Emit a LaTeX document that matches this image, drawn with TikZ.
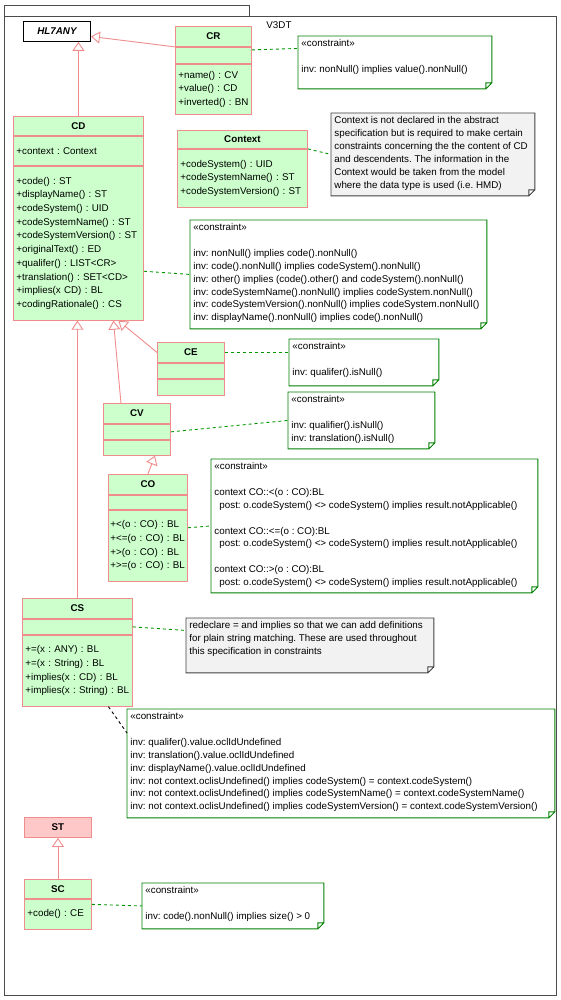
\documentclass[tikz,border=0pt]{standalone}
\usepackage{fontspec}
\setmainfont{Liberation Sans}
\usetikzlibrary{arrows.meta}
\frenchspacing

\definecolor{clsfill}{RGB}{204,255,204}
\definecolor{clsline}{RGB}{240,140,140}
\definecolor{stfill}{RGB}{255,200,200}
\definecolor{notegreen}{RGB}{0,128,0}
\definecolor{linkgreen}{RGB}{0,150,0}
\definecolor{notegray}{RGB}{242,242,242}

\tikzset{
  head/.style={draw=clsline, fill=clsfill, anchor=north west, inner sep=0pt,
    font=\fontsize{9.8}{13.7}\selectfont\bfseries},
  comp/.style={draw=clsline, fill=clsfill, anchor=north west, inner xsep=3pt,
    inner ysep=0pt, align=left, font=\fontsize{9.8}{13.7}\selectfont},
  spot/.style={anchor=north west, inner sep=0pt},
  gnote/.style={draw=notegreen, fill=white},
  cnote/.style={draw=black!75, fill=notegray},
  ntext/.style={anchor=north west, inner xsep=3pt, inner ysep=3pt, align=left,
    font=\fontsize{9.8}{12.9}\selectfont},
  gen/.style={draw=clsline, -{Triangle[open,length=9pt,width=12pt]}},
  link/.style={draw=linkgreen, dash pattern=on 3pt off 3pt}
}

\begin{document}
\begin{tikzpicture}[x=1pt, y=-1pt, line width=0.9pt]
  \useasboundingbox (0,0) rectangle (561,1000);
  % package frame
  \draw[black!70] (4,5) rectangle (249,16);
  \draw[black!70] (4,16) rectangle (556,995);
  \node[anchor=west, inner sep=0pt, font=\fontsize{9.8}{12}\selectfont] (pkg) at (266,25) {V3DT};

  % classes
  \node[draw=black, fill=white, anchor=north west, minimum width=67pt, minimum height=20pt,
    inner sep=0pt, font=\fontsize{9.8}{12}\selectfont\bfseries\itshape] (hl7any) at (23,21) {HL7ANY};

  \node[head, minimum width=76pt, minimum height=20pt] (cr) at (175,26) {CR};
  \node[comp, text width=70pt, minimum height=16pt] (cr-1) at (cr.south west) {};
  \node[comp, text width=70pt, minimum height=50pt] (cr-2) at (cr-1.south west)
    {+name() : CV\\+value() : CD\\+inverted() : BN};

  \node[head, minimum width=130pt, minimum height=19pt] (cd) at (13,116) {CD};
  \node[comp, text width=124pt, minimum height=29pt] (cd-1) at (cd.south west) {+context : Context};
  \node[comp, text width=124pt, minimum height=154pt] (cd-2) at (cd-1.south west)
    {+code() : ST\\+displayName() : ST\\+codeSystem() : UID\\+codeSystemName() : ST\\
     +codeSystemVersion() : ST\\+originalText() : ED\\+qualifer() : LIST<CR>\\
     +translation() : SET<CD>\\+implies(x CD) : BL\\+codingRationale() : CS};

  \node[head, minimum width=130pt, minimum height=18pt] (ctx) at (177,130) {Context};
  \node[comp, text width=124pt, minimum height=58pt] (ctx-1) at (ctx.south west)
    {+codeSystem() : UID\\+codeSystemName() : ST\\+codeSystemVersion() : ST};

  \node[head, minimum width=67pt, minimum height=20pt] (ce) at (157,342) {CE};
  \node[comp, text width=61pt, minimum height=15pt] (ce-1) at (ce.south west) {};
  \node[comp, text width=61pt, minimum height=16pt] (ce-2) at (ce-1.south west) {};

  \node[head, minimum width=67pt, minimum height=20pt] (cv) at (103,403) {CV};
  \node[comp, text width=61pt, minimum height=15pt] (cv-1) at (cv.south west) {};
  \node[comp, text width=61pt, minimum height=15pt] (cv-2) at (cv-1.south west) {};

  \node[head, minimum width=79pt, minimum height=20pt] (co) at (108,474) {CO};
  \node[comp, inner xsep=2pt, text width=75pt, minimum height=14pt] (co-1) at (co.south west) {};
  \node[comp, inner xsep=2pt, text width=75pt, minimum height=71pt] (co-2) at (co-1.south west)
    {+<(o : CO) : BL\\+<=(o : CO) : BL\\+>(o : CO) : BL\\+>=(o : CO) : BL};

  \node[head, minimum width=110pt, minimum height=20pt] (cs) at (22,598) {CS};
  \node[comp, text width=104pt, minimum height=15pt] (cs-1) at (cs.south west) {};
  \node[comp, text width=104pt, minimum height=71pt] (cs-2) at (cs-1.south west)
    {+=(x : ANY) : BL\\+=(x : String) : BL\\+implies(x : CD) : BL\\+implies(x : String) : BL};

  \node[head, fill=stfill, minimum width=67pt, minimum height=20pt] (st) at (24,817) {ST};

  \node[head, minimum width=67pt, minimum height=19pt] (sc) at (24,879) {SC};
  \node[comp, text width=61pt, minimum height=30pt] (sc-1) at (sc.south west) {+code() : CE};

  % notes
  \node[spot, minimum width=193pt, minimum height=52pt] (crn) at (298,36) {};
  \node[spot, minimum width=203pt, minimum height=82pt] (ctxn) at (331,113) {};
  \node[spot, minimum width=296pt, minimum height=108pt] (cdn) at (190,220) {};
  \node[spot, minimum width=149pt, minimum height=46pt] (cen) at (289,339) {};
  \node[spot, minimum width=146pt, minimum height=56pt] (cvn) at (288,392) {};
  \node[spot, minimum width=326pt, minimum height=133pt] (con) at (211,459) {};
  \node[spot, minimum width=247pt, minimum height=54pt] (csn) at (186,618) {};
  \node[spot, minimum width=427pt, minimum height=108pt] (csc) at (127,709) {};
  \node[spot, minimum width=181pt, minimum height=45pt] (scn) at (142,883) {};
  \foreach \n/\s in {crn/gnote, ctxn/cnote, cdn/gnote, cen/gnote, cvn/gnote,
                     con/gnote, csn/cnote, csc/gnote, scn/gnote}
    \path[\s] (\n.north west) -- (\n.north east) -- ([yshift=6pt]\n.south east)
      -- ([xshift=-6pt]\n.south east) -- (\n.south west) -- cycle
      ([yshift=6pt]\n.south east) -- ([xshift=-6pt,yshift=6pt]\n.south east)
      -- ([xshift=-6pt]\n.south east);

  \node[ntext] (crn-t) at (crn.north west)
    {«constraint»\\[12.9pt]inv: nonNull() implies value().nonNull()};
  \node[ntext, font=\fontsize{9.8}{13}\selectfont] (ctxn-t) at (ctxn.north west)
    {Context is not declared in the abstract\\specification but is required to make certain\\
     constraints concerning the the content of CD\\and descendents. The information in the\\
     Context would be taken from the model\\where the data type is used (i.e. HMD)};
  \node[ntext] (cdn-t) at (cdn.north west)
    {«constraint»\\[12.9pt]inv: nonNull() implies code().nonNull()\\
     inv: code().nonNull() implies codeSystem().nonNull()\\
     inv: other() implies (code().other() and codeSystem().nonNull()\\
     inv: codeSystemName().nonNull() implies codeSystem.nonNull()\\
     inv: codeSystemVersion().nonNull() implies codeSystem.nonNull()\\
     inv: displayName().nonNull() implies code().nonNull()};
  \node[ntext] (cen-t) at (cen.north west)
    {«constraint»\\[12.9pt]inv: qualifer().isNull()};
  \node[ntext] (cvn-t) at (cvn.north west)
    {«constraint»\\[12.9pt]inv: qualifier().isNull()\\inv: translation().isNull()};
  \node[ntext] (con-t) at (con.north west)
    {«constraint»\\[12.9pt]context CO::<(o : CO):BL\\
     \hspace*{5pt}post: o.codeSystem() <> codeSystem() implies result.notApplicable()\\[12.9pt]
     context CO::<=(o : CO):BL\\
     \hspace*{5pt}post: o.codeSystem() <> codeSystem() implies result.notApplicable()\\[12.9pt]
     context CO::>(o : CO):BL\\
     \hspace*{5pt}post: o.codeSystem() <> codeSystem() implies result.notApplicable()};
  \node[ntext] (csn-t) at (csn.north west)
    {redeclare = and implies so that we can add definitions\\
     for plain string matching. These are used throughout\\
     this specification in constraints};
  \node[ntext] (csc-t) at (csc.north west)
    {«constraint»\\[12.9pt]inv: qualifer().value.oclIdUndefined\\
     inv: translation().value.oclIdUndefined\\
     inv: displayName().value.oclIdUndefined\\
     inv: not context.oclisUndefined() implies codeSystem() = context.codeSystem()\\
     inv: not context.oclisUndefined() implies codeSystemName() = context.codeSystemName()\\
     inv: not context.oclisUndefined() implies codeSystemVersion() = context.codeSystemVersion()};
  \node[ntext] (scn-t) at (scn.north west)
    {«constraint»\\[12.9pt]inv: code().nonNull() implies size() > 0};

  % generalizations
  \draw[gen] (cr.south west) -- ([yshift=-5pt]hl7any.east);
  \draw[gen] (cd.north) -- (cd.north |- hl7any.south);
  \draw[gen] (ce.west) -- ([xshift=40pt]cd-2.south);
  \draw[gen] ([xshift=-16pt]cv.north) -- ([xshift=35pt]cd-2.south);
  \draw[gen] (cs.north) -- (cs.north |- cd-2.south);
  \draw[gen] (co.north) -- ([xshift=18pt]cv-2.south);
  \draw[gen] (sc.north) -- (st.south);

  % note links
  \draw[link] ([yshift=-3pt]cr.south east) -- ([yshift=14pt]crn.west);
  \draw[link] (ctx.south east) -- (ctxn.west);
  \draw[link] ([yshift=-28pt]cd-2.east) -- (cdn.west);
  \draw[link] (ce.east) -- ([yshift=10pt]cen.west);
  \draw[link] (cv-1.east) -- (cvn.west);
  \draw[link] ([yshift=18pt]co-2.east) -- (con.west);
  \draw[link] (cs-1.east) -- ([yshift=15pt]csn.west);
  \draw[link, draw=black] ([xshift=31pt]cs-2.south) -- ([yshift=-24pt]csc.north west);
  \draw[link] ([yshift=10pt]sc-1.east) -- (scn.west);
\end{tikzpicture}
\end{document}
